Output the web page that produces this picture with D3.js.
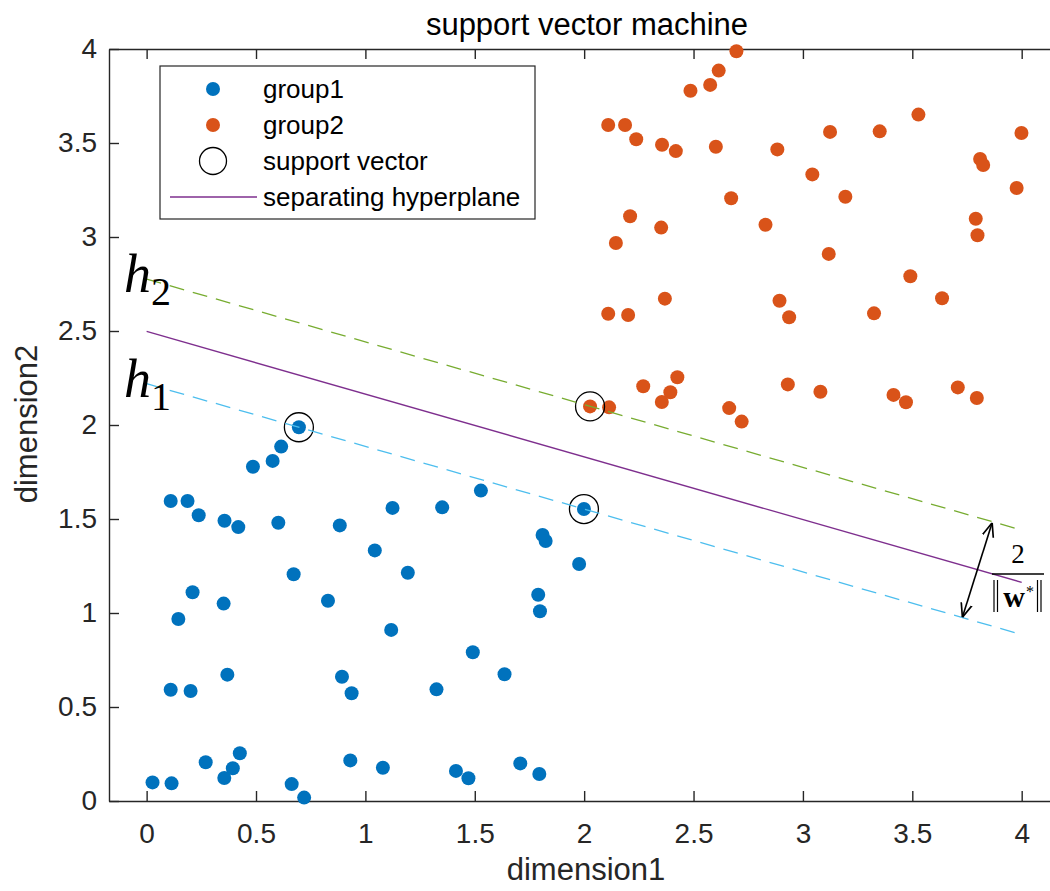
<!DOCTYPE html>
<html>
<head>
<meta charset="utf-8">
<script src="https://cdn.jsdelivr.net/npm/d3@7"></script>
<style>
  body { margin: 0; background: #fff; }
  svg { display: block; }
</style>
</head>
<body>
<script>
var w = 1050;
var h = 891;

// data
var group1X = [0.696,0.615,0.576,0.486,0.110,0.187,0.238,0.356,0.419,0.602,0.883,1.124,1.351,1.528,1.999,1.810,1.824,1.977,1.043,1.194,0.672,0.210,0.352,0.145,0.829,1.118,1.790,1.798,1.491,1.636,1.325,0.893,0.937,0.369,0.110,0.201,0.027,0.114,0.270,0.355,0.394,0.426,0.663,0.720,0.931,1.080,1.414,1.471,1.708,1.795];
var group1Y = [1.988,1.885,1.809,1.778,1.596,1.596,1.520,1.491,1.457,1.480,1.466,1.559,1.562,1.651,1.553,1.415,1.383,1.261,1.333,1.214,1.206,1.110,1.050,0.968,1.065,0.910,1.097,1.009,0.791,0.674,0.594,0.661,0.573,0.672,0.592,0.585,0.099,0.094,0.206,0.122,0.174,0.254,0.090,0.018,0.216,0.177,0.160,0.121,0.200,0.144];

var group2X = [2.696,2.615,2.576,2.486,2.110,2.187,2.238,2.356,2.419,2.602,2.883,3.124,3.351,3.528,3.999,3.810,3.824,3.977,3.043,3.194,2.672,2.210,2.352,2.145,2.829,3.118,3.790,3.798,3.491,3.636,3.325,2.893,2.937,2.369,2.110,2.201,2.027,2.114,2.270,2.355,2.394,2.426,2.663,2.720,2.931,3.080,3.414,3.471,3.708,3.795];
var group2Y = [3.988,3.885,3.809,3.778,3.596,3.596,3.520,3.491,3.457,3.480,3.466,3.559,3.562,3.651,3.553,3.415,3.383,3.261,3.333,3.214,3.206,3.110,3.050,2.968,3.065,2.910,3.097,3.009,2.791,2.674,2.594,2.661,2.573,2.672,2.592,2.585,2.099,2.094,2.206,2.122,2.174,2.254,2.090,2.018,2.216,2.177,2.160,2.121,2.200,2.144];

// support vectors
var svX = [0.696, 1.999, 2.027];
var svY = [1.988, 1.553, 2.099];

// line end points (x from 0 to 4)
var lineX = [0, 4];
var hyperplaneY = [2.498, 1.163];
var h1Y = [2.220, 0.885];
var h2Y = [2.776, 1.441];

// margin arrow end points
var arrowX = [3.729, 3.865];
var arrowY = [0.977, 1.480];

var xTicks = [0, 0.5, 1, 1.5, 2, 2.5, 3, 3.5, 4];
var xTickLabels = ["0", "0.5", "1", "1.5", "2", "2.5", "3", "3.5", "4"];
var yTicks = [0, 0.5, 1, 1.5, 2, 2.5, 3, 3.5, 4];
var yTickLabels = ["0", "0.5", "1", "1.5", "2", "2.5", "3", "3.5", "4"];

var legendLabels = ["group1", "group2", "support vector", "separating hyperplane"];

var blue = "#0072BD";
var orange = "#D95319";
var purple = "#7E2F8E";
var green = "#77AC30";
var lightBlue = "#4DBEEE";
var axisColor = "#262626";

var x = d3.scaleLinear()
    .domain([-0.172, 4.23])
    .range([109, 1072]);

var y = d3.scaleLinear()
    .domain([0, 4])
    .range([801, 49]);

var svg = d3.select("body")
    .append("svg")
    .attr("width", w)
    .attr("height", h)
    .style("font-family", "'Liberation Sans', Arial, sans-serif");

// arrow head
svg.append("defs")
    .append("marker")
    .attr("id", "arrowHead")
    .attr("viewBox", "0 0 10 10")
    .attr("refX", 10)
    .attr("refY", 5)
    .attr("markerUnits", "userSpaceOnUse")
    .attr("markerWidth", 14)
    .attr("markerHeight", 14)
    .attr("orient", "auto-start-reverse")
    .append("path")
    .attr("d", "M0,1 L10,5 L0,9")
    .attr("fill", "none")
    .attr("stroke", "#000")
    .attr("stroke-width", 1.2);

// axes
var xAxis = d3.axisBottom(x)
    .tickValues(xTicks)
    .tickFormat(function(d, i){ return xTickLabels[i]; })
    .tickSizeInner(-10)
    .tickSizeOuter(0)
    .tickPadding(22);

var xAxisTop = d3.axisTop(x)
    .tickValues(xTicks)
    .tickFormat("")
    .tickSizeInner(-10)
    .tickSizeOuter(0);

var yAxis = d3.axisLeft(y)
    .tickValues(yTicks)
    .tickFormat(function(d, i){ return yTickLabels[i]; })
    .tickSizeInner(-10)
    .tickSizeOuter(0)
    .tickPadding(12);

function styleAxis(g){
    g.selectAll("path, line")
        .attr("stroke", axisColor)
        .attr("stroke-width", 1.4);
    g.selectAll("text")
        .attr("fill", axisColor)
        .style("font-size", "28px")
        .style("font-family", "'Liberation Sans', Arial, sans-serif");
}

svg.append("g")
    .attr("transform", "translate(0," + y(0) + ")")
    .call(xAxis)
    .call(styleAxis);

svg.append("g")
    .attr("transform", "translate(0," + y(4) + ")")
    .call(xAxisTop)
    .call(styleAxis);

svg.append("g")
    .attr("transform", "translate(" + x.range()[0] + ",0)")
    .call(yAxis)
    .call(styleAxis);

// points
svg.append("g")
    .selectAll("circle")
    .data(group1X)
    .enter()
    .append("circle")
    .attr("cx", function(d){ return x(d); })
    .attr("cy", function(d, i){ return y(group1Y[i]); })
    .attr("r", 7)
    .attr("fill", blue);

svg.append("g")
    .selectAll("circle")
    .data(group2X)
    .enter()
    .append("circle")
    .attr("cx", function(d){ return x(d); })
    .attr("cy", function(d, i){ return y(group2Y[i]); })
    .attr("r", 7)
    .attr("fill", orange);

// support vectors
svg.append("g")
    .selectAll("circle")
    .data(svX)
    .enter()
    .append("circle")
    .attr("cx", function(d){ return x(d); })
    .attr("cy", function(d, i){ return y(svY[i]); })
    .attr("r", 14.5)
    .attr("fill", "none")
    .attr("stroke", "#000")
    .attr("stroke-width", 1.3);

// hyperplane and margins
var line = d3.line()
    .x(function(d){ return x(d[0]); })
    .y(function(d){ return y(d[1]); });

function pairs(ys){
    return lineX.map(function(v, i){ return [v, ys[i]]; });
}

svg.append("path")
    .attr("d", line(pairs(h2Y)))
    .attr("fill", "none")
    .attr("stroke", green)
    .attr("stroke-width", 1.3)
    .attr("stroke-dasharray", "15,9");

svg.append("path")
    .attr("d", line(pairs(h1Y)))
    .attr("fill", "none")
    .attr("stroke", lightBlue)
    .attr("stroke-width", 1.3)
    .attr("stroke-dasharray", "15,9");

svg.append("path")
    .attr("d", line(pairs(hyperplaneY)))
    .attr("fill", "none")
    .attr("stroke", purple)
    .attr("stroke-width", 1.4);

// margin arrow
svg.append("path")
    .attr("d", line(arrowX.map(function(v, i){ return [v, arrowY[i]]; })))
    .attr("fill", "none")
    .attr("stroke", "#000")
    .attr("stroke-width", 1.6)
    .attr("marker-start", "url(#arrowHead)")
    .attr("marker-end", "url(#arrowHead)");

// 2 / ||w*||
var serif = "'Liberation Serif', 'Times New Roman', serif";
var fx = 1018;
svg.append("text")
    .attr("x", fx)
    .attr("y", 563)
    .attr("text-anchor", "middle")
    .style("font-family", serif)
    .style("font-size", "27px")
    .text("2");

svg.append("line")
    .attr("x1", 992)
    .attr("x2", 1044)
    .attr("y1", 574)
    .attr("y2", 574)
    .attr("stroke", "#000")
    .attr("stroke-width", 1.3);

// norm bars drawn as thin strokes
[994, 997.5, 1037.5, 1041].forEach(function(bx){
    svg.append("line")
        .attr("x1", bx)
        .attr("x2", bx)
        .attr("y1", 580)
        .attr("y2", 612)
        .attr("stroke", "#000")
        .attr("stroke-width", 1.2);
});

svg.append("text")
    .attr("x", 1014)
    .attr("y", 607)
    .attr("text-anchor", "middle")
    .style("font-family", serif)
    .style("font-weight", "bold")
    .style("font-size", "30px")
    .text("w");

svg.append("text")
    .attr("x", 1030)
    .attr("y", 597)
    .attr("text-anchor", "middle")
    .style("font-family", serif)
    .style("font-size", "16px")
    .text("*");

// h labels
function hLabel(px, py, sub){
    var t = svg.append("text")
        .attr("x", px)
        .attr("y", py)
        .style("font-family", serif);
    t.append("tspan")
        .style("font-style", "italic")
        .style("font-size", "54px")
        .text("h");
    t.append("tspan")
        .attr("dy", 13)
        .style("font-size", "40px")
        .text(sub);
}
hLabel(124, 292, "2");
hLabel(124, 397, "1");

// legend
var legend = svg.append("g");

legend.append("rect")
    .attr("x", 160)
    .attr("y", 66)
    .attr("width", 375)
    .attr("height", 153)
    .attr("fill", "#fff")
    .attr("stroke", axisColor)
    .attr("stroke-width", 1.2);

var rowY = [89, 125, 161, 197];
var keyX = 213;

legend.append("circle").attr("cx", keyX).attr("cy", rowY[0]).attr("r", 7).attr("fill", blue);
legend.append("circle").attr("cx", keyX).attr("cy", rowY[1]).attr("r", 7).attr("fill", orange);
legend.append("circle").attr("cx", keyX).attr("cy", rowY[2]).attr("r", 13.5)
    .attr("fill", "none").attr("stroke", "#000").attr("stroke-width", 1.3);
legend.append("line")
    .attr("x1", 170).attr("x2", 257)
    .attr("y1", rowY[3]).attr("y2", rowY[3])
    .attr("stroke", purple).attr("stroke-width", 1.4);

legend.selectAll("text")
    .data(legendLabels)
    .enter()
    .append("text")
    .attr("x", 263)
    .attr("y", function(d, i){ return rowY[i]; })
    .attr("dy", "0.35em")
    .style("font-size", "26px")
    .attr("fill", "#000")
    .text(function(d){ return d; });

// title and axis labels
svg.append("text")
    .attr("x", 587)
    .attr("y", 35)
    .attr("text-anchor", "middle")
    .style("font-size", "31px")
    .attr("fill", "#000")
    .text("support vector machine");

svg.append("text")
    .attr("x", 586)
    .attr("y", 880)
    .attr("text-anchor", "middle")
    .style("font-size", "31px")
    .attr("fill", axisColor)
    .text("dimension1");

svg.append("text")
    .attr("transform", "translate(37,424) rotate(-90)")
    .attr("text-anchor", "middle")
    .style("font-size", "31px")
    .attr("fill", axisColor)
    .text("dimension2");
</script>
</body>
</html>
